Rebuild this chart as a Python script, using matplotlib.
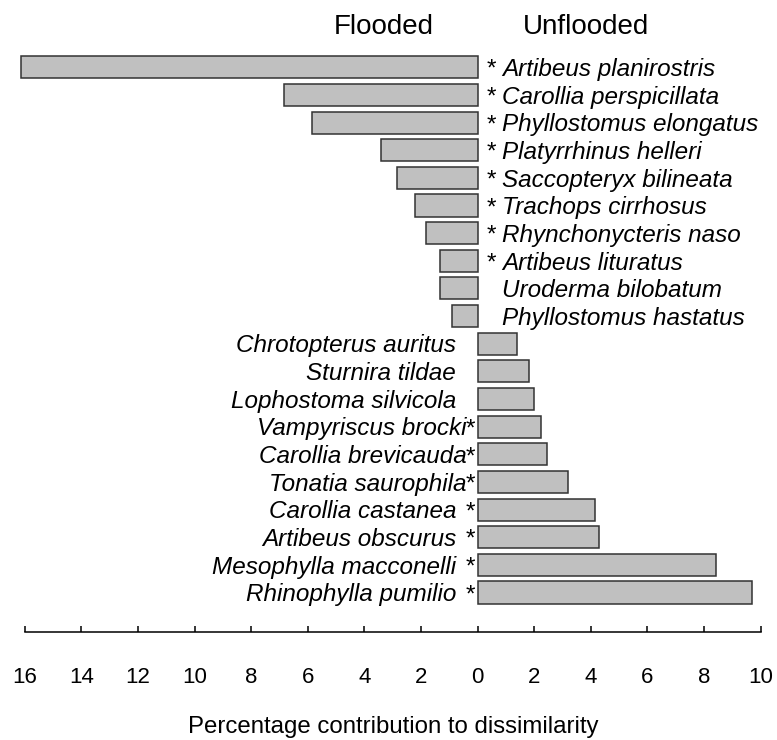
import matplotlib
matplotlib.use("Agg")
import matplotlib.pyplot as plt

plt.rcParams['font.family'] = ['Liberation Sans', 'DejaVu Sans']

# species, top to bottom; "*" marks a significant difference
labels = ["* Artibeus planirostris", "* Carollia perspicillata", "* Phyllostomus elongatus",
          "* Platyrrhinus helleri", "* Saccopteryx bilineata", "* Trachops cirrhosus",
          "* Rhynchonycteris naso", "* Artibeus lituratus", "Uroderma bilobatum",
          "Phyllostomus hastatus", "Chrotopterus auritus", "Sturnira tildae",
          "Lophostoma silvicola", "Vampyriscus brocki*", "Carollia brevicauda*",
          "Tonatia saurophila*", "Carollia castanea *", "Artibeus obscurus *",
          "Mesophylla macconelli *", "Rhinophylla pumilio *"]
# percentage contribution to dissimilarity (negative = flooded)
contribution = [-16.15, -6.84, -5.87, -3.42, -2.85, -2.22, -1.83, -1.34, -1.34, -0.91,
                1.38, 1.82, 2.00, 2.25, 2.44, 3.20, 4.16, 4.29, 8.42, 9.70]
xticks = list(range(-16, 11, 2))

fig = plt.figure(figsize=(7.77, 7.40), dpi=100)
ax = fig.add_axes([0.0320, 0.1455, 0.9470, 0.786])

pos = list(range(len(labels)))
ax.barh(pos, contribution, height=0.8, color='#c0c0c0', edgecolor='#333333',
        linewidth=1.1, clip_on=False)

ax.set_xlim(-16, 10)
ax.set_ylim(20.44, -0.6)

fs = 17.5
for y, lab, v in zip(pos, labels, contribution):
    star = '*' in lab
    name = lab.replace('*', '').strip()
    if v < 0:
        # labels for flooded species sit right of zero
        if star:
            ax.annotate('*', (0, y), xytext=(6.5, -6.3), textcoords='offset points',
                        ha='left', va='baseline', fontsize=fs)
        ax.annotate(name, (0, y), xytext=(17.3, -6.3), textcoords='offset points',
                    ha='left', va='baseline', fontsize=fs, style='italic')
    else:
        if star:
            ax.annotate('*', (0, y), xytext=(-2.0, -6.3), textcoords='offset points',
                        ha='right', va='baseline', fontsize=fs)
        dx = -8.0 if lab.endswith(name + '*') else -15.5
        ax.annotate(name, (0, y), xytext=(dx, -6.3), textcoords='offset points',
                    ha='right', va='baseline', fontsize=fs, style='italic')

for s in ['top', 'left', 'right']:
    ax.spines[s].set_visible(False)
ax.spines['bottom'].set_linewidth(1.1)
ax.set_yticks([])
ax.set_xticks(xticks)
ax.set_xticklabels([str(abs(t)) for t in xticks])
ax.tick_params(axis='x', direction='in', length=4.3, width=1.1, pad=25, labelsize=16)
ax.set_xlabel('Percentage contribution to dissimilarity', fontsize=17.3, labelpad=20)

fig.text(0.4936, 0.954, 'Flooded', ha='center', va='baseline', fontsize=20)
fig.text(0.7542, 0.954, 'Unflooded', ha='center', va='baseline', fontsize=20)

fig.savefig('out.png', dpi=100)
